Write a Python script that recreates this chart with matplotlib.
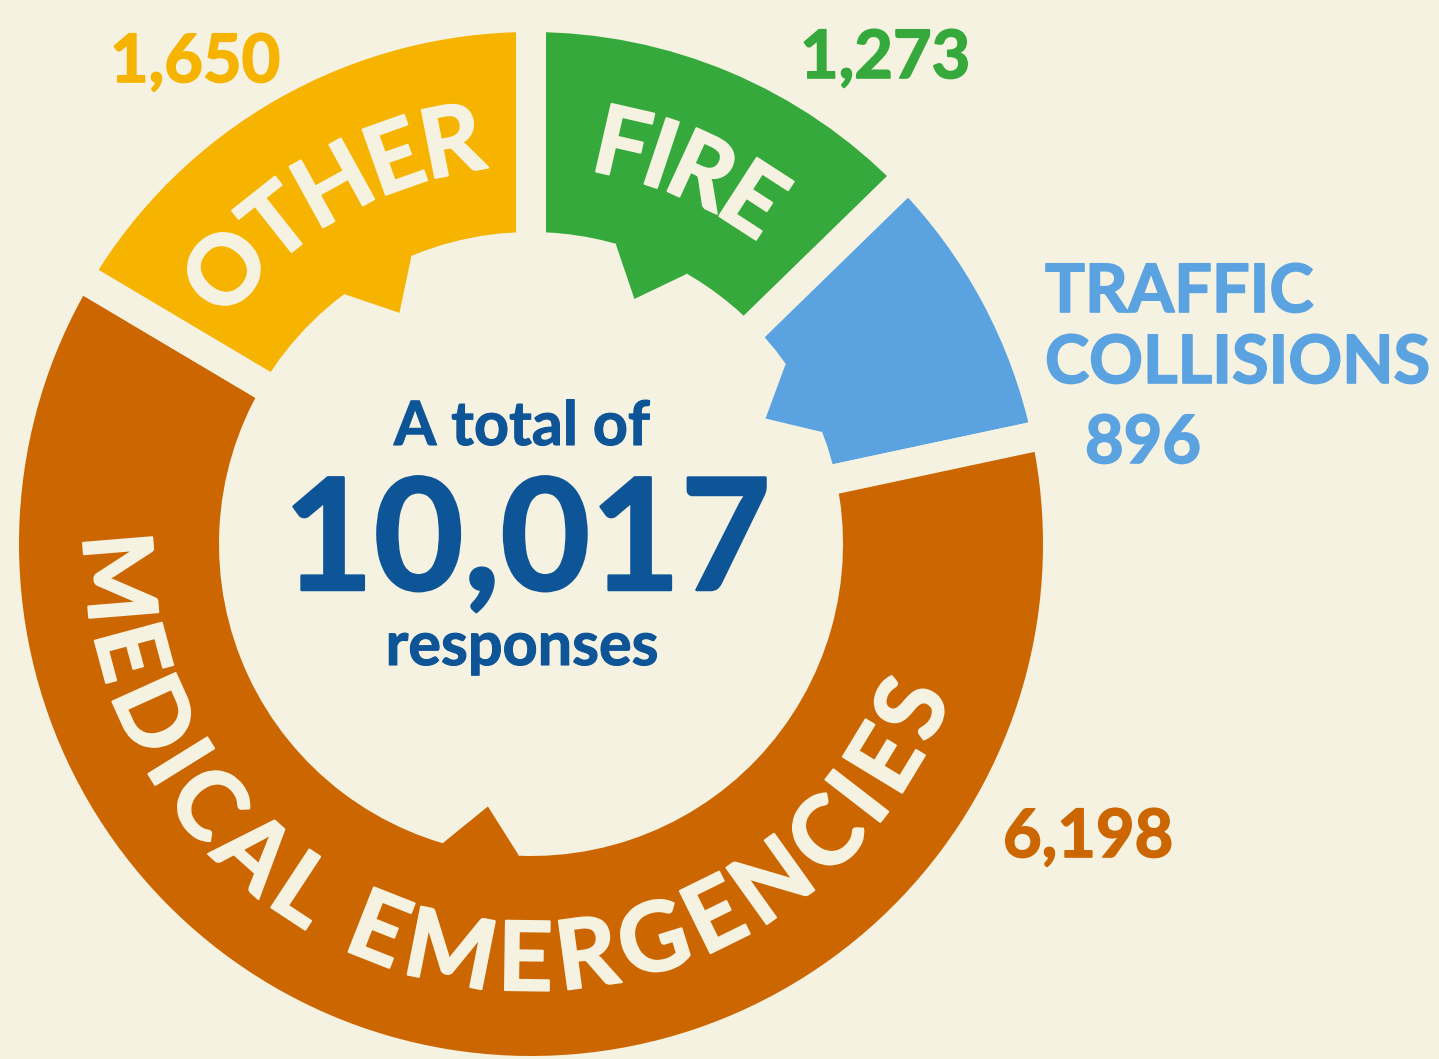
import numpy as np
import matplotlib.pyplot as plt
import matplotlib.patheffects as pe
from matplotlib.patches import Polygon
from matplotlib.font_manager import FontProperties
from matplotlib.textpath import TextToPath

# response counts, clockwise from the top of the ring
categories = ['FIRE', 'TRAFFIC COLLISIONS', 'MEDICAL EMERGENCIES', 'OTHER']
responses = [1273, 896, 6198, 1650]
ring_labels = ['FIRE', None, 'MEDICAL EMERGENCIES', 'OTHER']
total = sum(responses)

bg = '#F5F2E1'
colors = ['#35A93B', '#5AA3E0', '#CC6600', '#F6B400']
navy = '#0E5598'

W, H = 1439, 1059
px = 100 / 72  # points -> pixels at dpi 100

fig = plt.figure(figsize=(W / 100, H / 100), dpi=100, facecolor=bg)
ax = fig.add_axes([0, 0, 1, 1])
ax.set_facecolor(bg)

cx, cy = 531, H - 544
R = 527
ring = 230
gap = 21.6  # bg-coloured edge gives the white gaps between slices

wedges, _ = ax.pie(responses, colors=colors, startangle=90, counterclock=False,
                   radius=R, center=(cx, cy), frame=True,
                   wedgeprops=dict(width=ring, edgecolor=bg, linewidth=gap))
ax.set_xlim(0, W)
ax.set_ylim(0, H)
ax.set_aspect('equal')
ax.axis('off')

r_in = R - ring + gap * px / 2   # visible inner edge
r_out = R - gap * px / 2         # visible outer edge
r_mid = (r_in + r_out) / 2

# little inward pointing tooth on the inner edge of every slice
for w, col in zip(wedges, colors):
    mid = np.radians((w.theta1 + w.theta2) / 2)
    hw = np.radians(7)
    pts = [(mid + hw, r_in + 20), (mid + hw, r_in - 1), (mid, r_in - 46),
           (mid - hw, r_in - 1), (mid - hw, r_in + 20)]
    xy = [(cx + r * np.cos(a), cy + r * np.sin(a)) for a, r in pts]
    ax.add_patch(Polygon(xy, closed=True, facecolor=col, edgecolor='none', zorder=2))


def heavy(col, lw=1.0):
    # only Lato Bold is around, a thin stroke in the same colour fattens it up
    return [pe.withStroke(linewidth=lw, foreground=col)]


ttp = TextToPath()


def arc_text(text, theta_mid, span, size, up_out):
    # lay the letters of text along the ring, centred on theta_mid,
    # first and last letter centres span degrees apart
    fp = FontProperties(family='Lato', weight='bold', size=size)
    n = len(text)
    pre = [0.0] + [ttp.get_text_width_height_descent(text[:i], fp, ismath=False)[0] * px
                   for i in range(1, n + 1)]
    centers = [(pre[i] + pre[i + 1]) / 2 for i in range(n)]
    cap = 0.7165 * size * px
    r_base = r_mid - cap / 2 if up_out else r_mid + cap / 2
    natural = centers[-1] - centers[0]
    target = np.radians(span) * r_base
    extra = (target - natural) / (n - 1)
    for i, ch in enumerate(text):
        if ch == ' ':
            continue
        s = centers[i] - centers[0] + i * extra - target / 2
        if up_out:
            a = np.radians(theta_mid) - s / r_base
            rot = np.degrees(a) - 90
        else:
            a = np.radians(theta_mid) + s / r_base
            rot = np.degrees(a) + 90
        ax.text(cx + r_base * np.cos(a), cy + r_base * np.sin(a), ch, rotation=rot,
                rotation_mode='anchor', ha='center', va='baseline', color=bg,
                fontproperties=fp, zorder=3, path_effects=heavy(bg, 1.5))


spans = {'FIRE': 20, 'MEDICAL EMERGENCIES': 152, 'OTHER': 37}
for w, lab in zip(wedges, ring_labels):
    if lab is None:
        continue
    mid = (w.theta1 + w.theta2) / 2
    up_out = np.sin(np.radians(mid)) > 0
    arc_text(lab, mid, spans[lab], 69, up_out)

# centre text
ax.text(522, H - 445, 'A total of', ha='center', va='baseline', color=navy,
        family='Lato', weight='bold', fontsize=44, path_effects=heavy(navy, 0.8))
ax.text(527, H - 590, f'{total:,}', ha='center', va='baseline', color=navy,
        family='Lato', weight='bold', fontsize=112, path_effects=heavy(navy, 1.8))
ax.text(522, H - 665, 'responses', ha='center', va='baseline', color=navy,
        family='Lato', weight='bold', fontsize=44, path_effects=heavy(navy, 0.8))

# value labels around the ring
lab_kw = dict(family='Lato', weight='bold', fontsize=48, va='baseline', ha='left')
value_labels = [
    (110, 82, f'{responses[3]:,}', colors[3]),
    (800, 78, f'{responses[0]:,}', colors[0]),
    (1045, 312, 'TRAFFIC', colors[1]),
    (1045, 383, 'COLLISIONS', colors[1]),
    (1085, 463, f'{responses[1]:,}', colors[1]),
    (1003, 857, f'{responses[2]:,}', colors[2]),
]
for x, y, s, col in value_labels:
    ax.text(x, H - y, s, color=col, path_effects=heavy(col, 1.2), **lab_kw)

fig.savefig('out.png', dpi=100, facecolor=bg)
